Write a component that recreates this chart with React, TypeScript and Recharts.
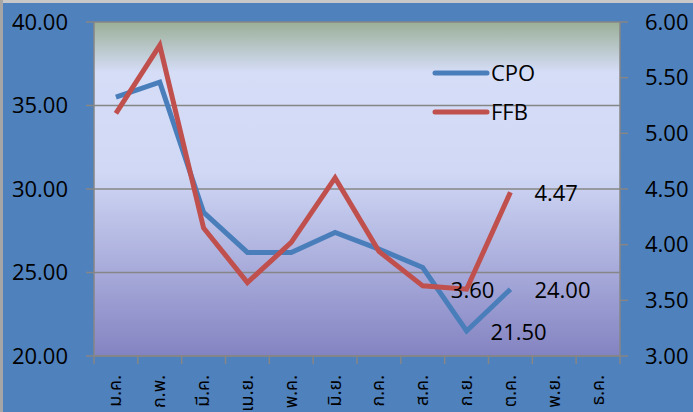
import React from "react"
import {
  LineChart,
  Line,
  XAxis,
  YAxis,
  CartesianGrid,
  Legend,
} from "recharts"

const months = ["ม.ค.", "ก.พ.", "มี.ค.", "เม.ย.", "พ.ค.", "มิ.ย.", "ก.ค.", "ส.ค.", "ก.ย.", "ต.ค.", "พ.ย.", "ธ.ค."]
const cpo = [35.5, 36.4, 28.6, 26.2, 26.2, 27.4, 26.4, 25.3, 21.5, 24.0, null, null]
const ffb = [5.18, 5.79, 4.15, 3.66, 4.02, 4.6, 3.94, 3.63, 3.6, 4.47, null, null]
const leftTicks = [20, 25, 30, 35, 40]
const rightTicks = [3, 3.5, 4, 4.5, 5, 5.5, 6]
const cpoLabelIdx = [8, 9]
const ffbLabelIdx = [8, 9]

const data = months.map((m, i) => ({ month: m, CPO: cpo[i], FFB: ffb[i] }))

const W = 693
const H = 412
const LEFT_W = 94
const RIGHT_W = 73
const BAND = (W - LEFT_W - RIGHT_W) / months.length

const BLUE = "#4A7EBB"
const RED = "#C0504D"
const GRID = "#868686"
const FONT = "'Open Sans', 'Noto Sans', sans-serif"

const MonthTick = (props: any) => {
  const { x, y, payload, index } = props
  const top = y - 8
  return (
    <g>
      <line x1={x - BAND / 2} y1={top} x2={x - BAND / 2} y2={y} stroke={GRID} strokeWidth={1.5} />
      {index === months.length - 1 && (
        <line x1={x + BAND / 2} y1={top} x2={x + BAND / 2} y2={y} stroke={GRID} strokeWidth={1.5} />
      )}
      <text
        x={x}
        y={y + 11}
        transform={`rotate(-90, ${x}, ${y + 11})`}
        textAnchor="end"
        dominantBaseline="central"
        fontSize={18}
        fill="#000"
        fontFamily="Tahoma, 'Noto Sans Thai', 'DejaVu Sans', sans-serif"
      >
        {payload.value}
      </text>
    </g>
  )
}

const makeLabel = (idx: number[], centerIdx: number[]) => (props: any) => {
  const { x, y, index, value } = props
  if (!idx.includes(index) || value == null) return null
  const centered = centerIdx.includes(index)
  return (
    <text
      key={`l-${index}`}
      x={centered ? x + 6 : x + 24}
      y={y}
      dominantBaseline="central"
      textAnchor={centered ? "middle" : "start"}
      fontSize={22}
      fontFamily={FONT}
      fill="#000"
    >
      {Number(value).toFixed(2)}
    </text>
  )
}

const LegendBox = () => (
  <div style={{ fontFamily: FONT, fontSize: 22, color: "#000" }}>
    {[
      { name: "CPO", color: BLUE },
      { name: "FFB", color: RED },
    ].map((s) => (
      <div key={s.name} style={{ display: "flex", alignItems: "center", height: 39 }}>
        <svg width={59} height={10}>
          <line x1={3} y1={5} x2={55} y2={5} stroke={s.color} strokeWidth={5} strokeLinecap="round" />
        </svg>
        <span style={{ lineHeight: "39px" }}>{s.name}</span>
      </div>
    ))}
  </div>
)

export default function App() {
  return (
    <div style={{ position: "absolute", left: 0, top: 0, width: W, height: H, background: "#4F81BD", overflow: "hidden" }}>
      <LineChart width={W} height={H} data={data} margin={{ top: 22, right: 0, bottom: 0, left: 0 }}>
        <defs>
          <linearGradient id="plotGrad" x1="0" y1="0" x2="0" y2="1">
            <stop offset="0%" stopColor="#9AAF97" />
            <stop offset="15%" stopColor="#D5DDF7" />
            <stop offset="45%" stopColor="#D0D8F5" />
            <stop offset="100%" stopColor="#8483C2" />
          </linearGradient>
        </defs>
        <CartesianGrid
          yAxisId="left"
          vertical={false}
          stroke={GRID}
          strokeWidth={1.5}
          fill="url(#plotGrad)"
          fillOpacity={1}
        />
        <XAxis
          dataKey="month"
          scale="band"
          interval={0}
          height={412 - 356}
          tickSize={8}
          tickMargin={0}
          tickLine={false}
          axisLine={{ stroke: GRID, strokeWidth: 1.5 }}
          tick={<MonthTick />}
        />
        <YAxis
          yAxisId="left"
          orientation="left"
          width={LEFT_W}
          domain={[20, 40]}
          ticks={leftTicks}
          tickFormatter={(v: number) => v.toFixed(2)}
          tickSize={8}
          tickMargin={18}
          axisLine={{ stroke: GRID, strokeWidth: 1.5 }}
          tickLine={{ stroke: GRID, strokeWidth: 1.5 }}
          tick={{ fill: "#000", fontSize: 22, fontFamily: FONT }}
        />
        <YAxis
          yAxisId="right"
          orientation="right"
          width={RIGHT_W}
          domain={[3, 6]}
          ticks={rightTicks}
          tickFormatter={(v: number) => v.toFixed(2)}
          tickSize={8}
          tickMargin={17}
          axisLine={{ stroke: GRID, strokeWidth: 1.5 }}
          tickLine={{ stroke: GRID, strokeWidth: 1.5 }}
          tick={{ fill: "#000", fontSize: 22, fontFamily: FONT, textAnchor: "start" }}
        />
        <Legend
          layout="horizontal"
          verticalAlign="middle"
          align="center"
          wrapperStyle={{ left: 432, top: 53, width: "auto" }}
          content={() => <LegendBox />}
        />
        <Line
          yAxisId="left"
          type="linear"
          dataKey="CPO"
          stroke={BLUE}
          strokeWidth={5}
          dot={false}
          activeDot={false}
          isAnimationActive={false}
          label={makeLabel(cpoLabelIdx, [])}
        />
        <Line
          yAxisId="right"
          type="linear"
          dataKey="FFB"
          stroke={RED}
          strokeWidth={5}
          dot={false}
          activeDot={false}
          isAnimationActive={false}
          label={makeLabel(ffbLabelIdx, [8])}
        />
      </LineChart>
      <div style={{ position: "absolute", left: 0, top: 0, width: W, height: 3, background: "#C8C8C8" }} />
      <div style={{ position: "absolute", left: 0, top: 0, width: 3, height: H, background: "#A6A6A6" }} />
    </div>
  )
}
